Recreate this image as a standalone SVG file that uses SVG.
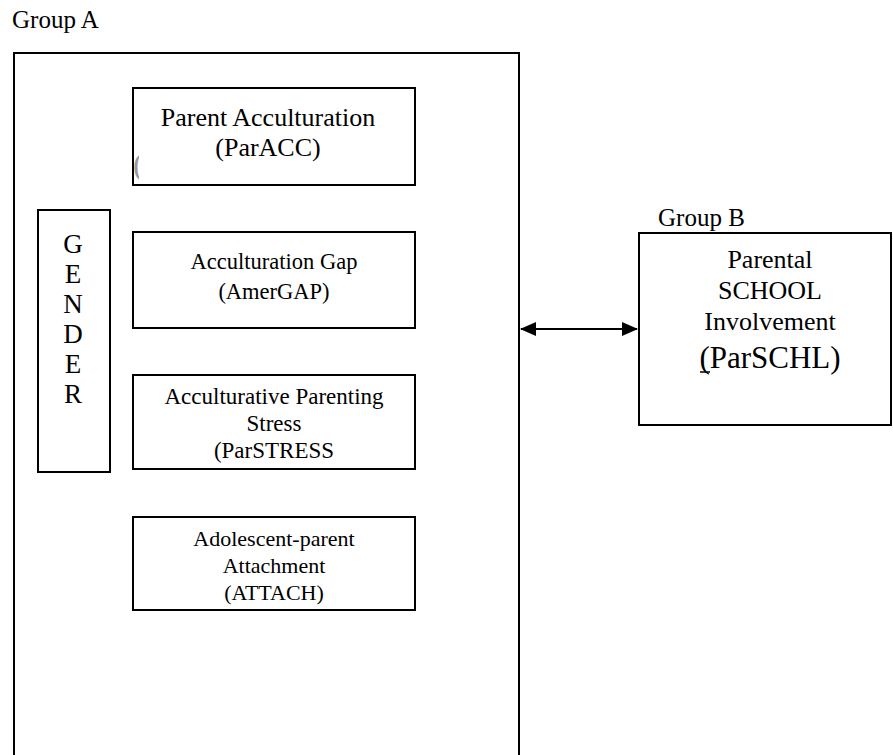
<svg xmlns="http://www.w3.org/2000/svg" width="893" height="755" viewBox="0 0 893 755">
<defs>
<style>
.box{fill:#fff;stroke:#000;stroke-width:2}
.t{font-family:"Liberation Serif","Times New Roman",serif;font-size:23px;fill:#000;text-anchor:middle}
.t22{font-size:22px}
.t26{font-size:26px}
.g{font-size:27px}
.lbl{font-family:"Liberation Serif","Times New Roman",serif;font-size:25px;fill:#000}
.conn{stroke:#000;stroke-width:2;fill:none}
</style>
<marker id="ah" viewBox="0 0 16 14" refX="15" refY="7" markerWidth="16" markerHeight="14" markerUnits="userSpaceOnUse" orient="auto-start-reverse">
<path d="M0,0 L16,7 L0,14 Z" fill="#000"/>
</marker>
<clipPath id="clipP"><rect x="134" y="148" width="5" height="32"/></clipPath>
</defs>
<rect width="893" height="755" fill="#fff"/>
<g id="groupA">
<text class="lbl" x="12" y="28">Group A</text>
<path class="conn" d="M14,760 V53 H519 V760"/>
</g>
<g id="parACC">
<rect class="box" x="133" y="88" width="282" height="97"/>
<text class="t t26" x="268" y="126">Parent Acculturation</text>
<text class="t t26" x="268" y="156">(ParACC)</text>
<text x="133" y="175" clip-path="url(#clipP)" style="font-family:'Liberation Serif',serif;font-size:32px;font-weight:300;fill:#999">(</text>
</g>
<g id="amerGAP">
<rect class="box" x="133" y="232" width="282" height="96"/>
<text class="t" x="274" y="269" style="font-size:22.5px">Acculturation Gap</text>
<text class="t" x="274" y="299" style="font-size:22.5px">(AmerGAP)</text>
</g>
<g id="parSTRESS">
<rect class="box" x="133" y="375" width="282" height="94"/>
<text class="t" x="274" y="404">Acculturative Parenting</text>
<text class="t" x="274" y="431">Stress</text>
<text class="t" x="274" y="458">(ParSTRESS</text>
</g>
<g id="attach">
<rect class="box" x="133" y="517" width="282" height="93"/>
<text class="t t22" x="274" y="546">Adolescent-parent</text>
<text class="t t22" x="274" y="573">Attachment</text>
<text class="t t22" x="274" y="600">(ATTACH)</text>
</g>
<g id="gender">
<rect class="box" x="38" y="210" width="72" height="262"/>
<text class="t g" x="73" y="253">G</text>
<text class="t g" x="73" y="283">E</text>
<text class="t g" x="73" y="313">N</text>
<text class="t g" x="73" y="343">D</text>
<text class="t g" x="73" y="373">E</text>
<text class="t g" x="73" y="403">R</text>
</g>
<g id="groupB">
<text class="lbl" x="658" y="226">Group B</text>
</g>
<g id="parSCHL">
<rect class="box" x="639" y="233" width="252" height="192"/>
<text class="t t26" x="770" y="268">Parental</text>
<text class="t t26" x="770" y="299">SCHOOL</text>
<text class="t t26" x="770" y="330">Involvement</text>
<text class="t" x="770" y="368" style="font-size:31px">(ParSCHL)</text>
<line x1="700" y1="372" x2="710" y2="372" stroke="#000" stroke-width="1.5"/>
</g>
<g id="connectors">
<line class="conn" x1="521" y1="329" x2="637" y2="329" marker-start="url(#ah)" marker-end="url(#ah)"/>
</g>
</svg>
